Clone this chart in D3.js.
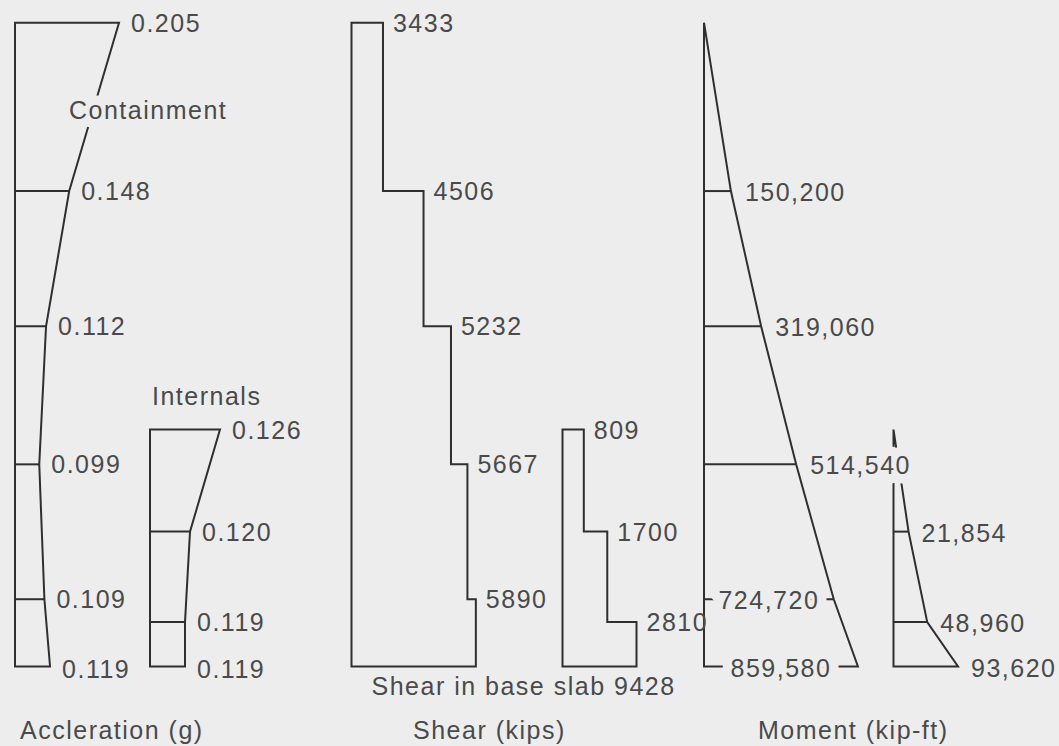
<!DOCTYPE html>
<html>
<head>
<meta charset="utf-8">
<script src="https://cdn.jsdelivr.net/npm/d3@7/dist/d3.min.js"></script>
<style>
  html, body { margin: 0; padding: 0; background: #ededed; }
  svg { display: block; }
  text { font-family: "Liberation Sans", Arial, sans-serif; font-size: 25px; letter-spacing: 1.5px; fill: #4a4a4a; }
</style>
</head>
<body>
<svg id="chart" width="1059" height="746"></svg>
<script>
// Node elevations (ft above base) for the two structures
const containmentElev = [200, 147.7, 105.7, 62.8, 20.9, 0];
const internalsElev = [73.6, 41.9, 13.8, 0];

// Peak accelerations at the nodes (g)
const accelContainment = [0.205, 0.148, 0.112, 0.099, 0.109, 0.119];
const accelInternals = [0.126, 0.120, 0.119, 0.119];

// Story shears, one per segment from the top down (kips)
const shearContainment = [3433, 4506, 5232, 5667, 5890];
const shearInternals = [809, 1700, 2810];
const baseSlabShear = 9428;

// Overturning moments at the nodes (kip-ft)
const momentContainment = [0, 150200, 319060, 514540, 724720, 859580];
const momentInternals = [0, 21854, 48960, 93620];

const groupLabels = ["Containment", "Internals"];
const panelTitles = ["Accleration (g)", "Shear (kips)", "Moment (kip-ft)"];

const BG = "#ededed", INK = "#2f2f2f";
const svg = d3.select("#chart");
const gLines = svg.append("g").attr("fill", "none").attr("stroke", INK).attr("stroke-width", 2);
const gText = svg.append("g");

const y = d3.scaleLinear().domain([0, 200]).range([666.5, 22.7]);

const fAcc = d3.format(".3f"), fShear = d3.format("d"), fMom = d3.format(",");
const line = d3.line();

function label(x, yc, txt, knock) {
  const t = gText.append("text").attr("x", x).attr("y", yc + 9).text(txt);
  if (knock) {
    t.attr("stroke", BG).attr("stroke-width", 19).attr("stroke-linejoin", "round")
     .attr("paint-order", "stroke");
  }
  return t;
}

// ---------- Acceleration ----------
function accelProfile(values, elev, xs) {
  const x0 = xs.range()[0];
  const pts = [[x0, y(elev[0])]]
    .concat(values.map((v, i) => [xs(v), y(elev[i])]))
    .concat([[x0, y(elev[elev.length - 1])]]);
  gLines.append("path").attr("d", line(pts) + "Z");
  values.forEach((v, i) => {
    if (i > 0 && i < values.length - 1) {
      gLines.append("path").attr("d", line([[x0, y(elev[i])], [xs(v), y(elev[i])]]));
    }
    label(xs(v) + 12, y(elev[i]) + (i === values.length - 1 ? 2 : 0), fAcc(v));
  });
}
const xAccC = d3.scalePow().exponent(2).domain([0, 0.205]).range([15, 119]);
const xAccI = d3.scaleLinear().domain([0.112, 0.126]).range([150, 220]);
accelProfile(accelContainment, containmentElev, xAccC);
accelProfile(accelInternals, internalsElev, xAccI);

// ---------- Shear ----------
function shearProfile(values, elev, xs) {
  const x0 = xs(0) < xs.range()[0] ? xs.range()[0] : xs.range()[0];
  const pts = [[x0, y(elev[0])]];
  values.forEach((v, i) => {
    pts.push([xs(v), y(elev[i])]);
    pts.push([xs(v), y(elev[i + 1])]);
  });
  pts.push([x0, y(elev[elev.length - 1])]);
  gLines.append("path").attr("d", line(pts) + "Z");
  values.forEach((v, i) => label(xs(v) + 10, y(elev[i]), fShear(v)));
}
const xShC = d3.scaleLinear().domain([2600, 6000]).range([351.5, 480]);
const xShI = d3.scaleLinear().domain([0, 2810]).range([562.5, 636.5]);
shearProfile(shearContainment, containmentElev, xShC);
shearProfile(shearInternals, internalsElev, xShI);
label(xShC.range()[0] + 20, y(0) + 19, "Shear in base slab " + fShear(baseSlabShear));

// ---------- Moment ----------
function momentProfile(values, elev, xs, insideFrom) {
  const x0 = xs(0);
  const pts = values.map((v, i) => [xs(v), y(elev[i])])
    .concat([[x0, y(elev[elev.length - 1])]]);
  gLines.append("path").attr("d", line(pts) + "Z");
  values.forEach((v, i) => {
    if (i === 0) return;
    if (i < values.length - 1) {
      gLines.append("path").attr("d", line([[x0, y(elev[i])], [xs(v), y(elev[i])]]));
    }
    if (i >= insideFrom) {
      label((x0 + xs(v)) / 2, y(elev[i]) + 1, fMom(v), true).attr("text-anchor", "middle");
    }
  });
  return values.map((v, i) => ({ v, i }));
}
const xMoC = d3.scaleLinear().domain([0, 860000]).range([704, 858]);
const xMoI = d3.scaleLinear().domain([0, 93620]).range([893.5, 958]);
momentProfile(momentContainment, containmentElev, xMoC, 4);
momentProfile(momentInternals, internalsElev, xMoI, 99);
momentContainment.forEach((v, i) => {
  if (i > 0 && i < 4) label(xMoC(v) + 14, y(containmentElev[i]) + 1, fMom(v), i === 3);
});
momentInternals.forEach((v, i) => {
  if (i > 0) label(xMoI(v) + 13, y(internalsElev[i]) + 1, fMom(v));
});

// ---------- Group and panel labels ----------
label(xAccC.range()[0] + 54, (y(containmentElev[0]) + y(containmentElev[1])) / 2 + 3, groupLabels[0], true);
gText.append("text").attr("x", xAccI.range()[0] + 2).attr("y", y(internalsElev[0]) - 25).text(groupLabels[1]);

const titleX = [20, 413, 758];
panelTitles.forEach((t, i) => {
  gText.append("text").attr("x", titleX[i]).attr("y", 739).text(t);
});
</script>
</body>
</html>
